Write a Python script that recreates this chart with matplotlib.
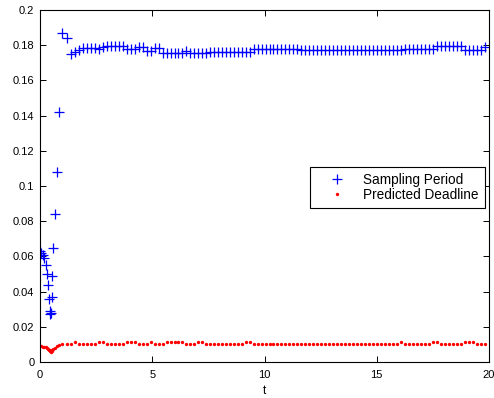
import numpy as np
import matplotlib
matplotlib.use("Agg")
import matplotlib.pyplot as plt

plt.rcParams['font.family'] = ['Liberation Sans', 'DejaVu Sans']

# Sampling period values (each sample's time is the sum of the previous periods)
sampling_period = [
    # transient
    0.063, 0.062, 0.061, 0.059, 0.055, 0.050, 0.044, 0.036, 0.029, 0.027,
    0.028, 0.037, 0.049, 0.065, 0.084, 0.108, 0.142, 0.187, 0.184, 0.175,
    0.176, 0.177,
    # steady state
    0.1782, 0.1782, 0.1782, 0.1782,
    0.1776,
    0.1788, 0.1796, 0.1796, 0.1796, 0.1796, 0.1796,
    0.1777, 0.1777, 0.1777,
    0.1792, 0.1792,
    0.1769, 0.1769,
    0.1782, 0.1782,
    0.1754, 0.1754, 0.1754, 0.1754, 0.1754, 0.1754,
    0.1769,
    0.1754, 0.1754, 0.1754, 0.1754, 0.1754,
    0.1763, 0.1763, 0.1763, 0.1763, 0.1763, 0.1763, 0.1763, 0.1763, 0.1763,
    0.1763, 0.1763,
    0.1776, 0.1776, 0.1776, 0.1776, 0.1776, 0.1776, 0.1776, 0.1776, 0.1776,
    0.1776, 0.1776, 0.1776,
    0.1773, 0.1773, 0.1773, 0.1773, 0.1773, 0.1773, 0.1773, 0.1773, 0.1773,
    0.1773, 0.1773, 0.1773, 0.1773, 0.1773, 0.1773, 0.1773, 0.1773, 0.1773,
    0.1773, 0.1773, 0.1773, 0.1773, 0.1773, 0.1773, 0.1773, 0.1773,
    0.1780, 0.1780, 0.1780, 0.1780, 0.1780, 0.1780, 0.1780, 0.1780,
    0.1797, 0.1797, 0.1797, 0.1797, 0.1797, 0.1797, 0.1797,
    0.1773, 0.1773, 0.1773, 0.1773, 0.1773,
    0.1792,
]

predicted_deadline = [
    # transient
    0.0092, 0.0090, 0.0088, 0.0086, 0.0083, 0.0080, 0.0076, 0.0071, 0.0066, 0.0061,
    0.0057, 0.0060, 0.0066, 0.0073, 0.0081, 0.0090, 0.0098, 0.0102, 0.0102, 0.0102,
    0.0111, 0.0102,
    # steady state
    0.0102, 0.0102, 0.0102, 0.0102,
    0.0111,
    0.0111, 0.0102, 0.0102, 0.0102, 0.0102, 0.0102,
    0.0111, 0.0111, 0.0111,
    0.0102, 0.0102,
    0.0102, 0.0111,
    0.0102, 0.0102,
    0.0102, 0.0111, 0.0111, 0.0111, 0.0111, 0.0111,
    0.0102,
    0.0102, 0.0102, 0.0111, 0.0111, 0.0102,
    0.0102, 0.0102, 0.0102, 0.0102, 0.0102, 0.0102, 0.0102, 0.0102, 0.0102,
    0.0111, 0.0111,
    0.0102, 0.0102, 0.0102, 0.0102, 0.0102, 0.0102, 0.0102, 0.0102, 0.0102,
    0.0102, 0.0102, 0.0102,
    0.0102, 0.0102, 0.0102, 0.0102, 0.0102, 0.0102, 0.0102, 0.0102, 0.0102,
    0.0102, 0.0102, 0.0102, 0.0102, 0.0102, 0.0102, 0.0102, 0.0102, 0.0102,
    0.0102, 0.0102, 0.0102, 0.0102, 0.0102, 0.0102, 0.0102, 0.0111,
    0.0102, 0.0102, 0.0102, 0.0102, 0.0102, 0.0102, 0.0102, 0.0111,
    0.0111, 0.0102, 0.0102, 0.0102, 0.0102, 0.0102, 0.0102,
    0.0111, 0.0111, 0.0111, 0.0102, 0.0102,
    0.0102,
]

x_ticks = [0, 5, 10, 15, 20]
x_tick_labels = ["0", "5", "10", "15", "20"]
y_ticks = [0, 0.02, 0.04, 0.06, 0.08, 0.1, 0.12, 0.14, 0.16, 0.18, 0.2]
y_tick_labels = ["0", "0.02", "0.04", "0.06", "0.08", "0.1", "0.12", "0.14",
                 "0.16", "0.18", "0.2"]

period = np.array(sampling_period)
deadline = np.array(predicted_deadline)
t = np.concatenate([[0.0], np.cumsum(period[:-1])])

fig = plt.figure(figsize=(4.94, 3.98), dpi=100)
ax = fig.add_axes([40 / 494, 36 / 398, 449 / 494, 352 / 398])

ax.plot(t, period, linestyle='none', marker='+', color=(0, 0, 1),
        markersize=6.5, markeredgewidth=0.9, label='Sampling Period')
ax.plot(t, deadline, linestyle='none', marker='.', color=(1, 0, 0),
        markersize=2.8, label='Predicted Deadline')

ax.set_xlim(0, 20)
ax.set_ylim(0, 0.2)
ax.set_xticks(x_ticks)
ax.set_xticklabels(x_tick_labels)
ax.set_yticks(y_ticks)
ax.set_yticklabels(y_tick_labels)
ax.tick_params(direction='in', top=True, right=True, length=4, width=0.7,
               labelsize=8)
ax.tick_params(axis='x', pad=6)
ax.tick_params(axis='y', pad=4)
for s in ax.spines.values():
    s.set_linewidth(0.8)
ax.set_xlabel('t', fontsize=8.5, labelpad=3)

leg = ax.legend(loc='upper right', bbox_to_anchor=(0.991, 0.554),
                borderaxespad=0, fontsize=9.8, frameon=True, fancybox=False,
                edgecolor='black', framealpha=1, handlelength=3.0,
                handletextpad=0.45, borderpad=0.45, labelspacing=0.08)
leg.get_frame().set_linewidth(0.8)

fig.savefig('out.png', dpi=100)
